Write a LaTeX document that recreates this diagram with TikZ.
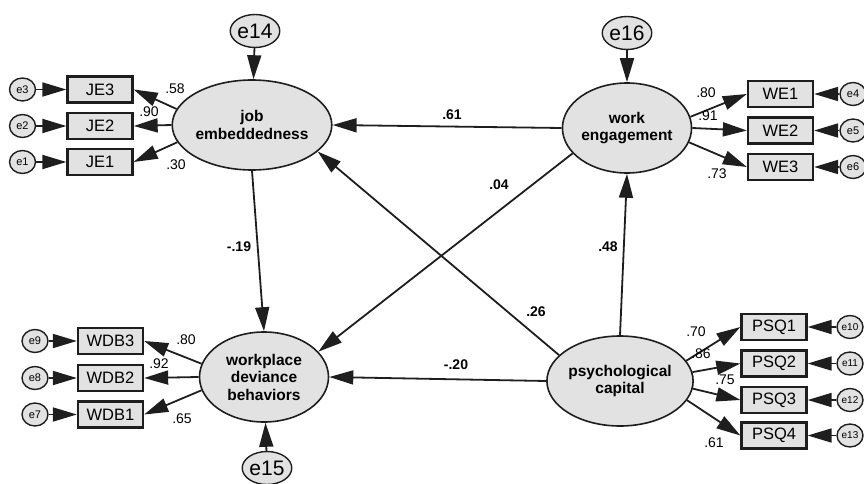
\documentclass[tikz,border=0pt]{standalone}
\usepackage{fontspec}
\setmainfont{Liberation Sans}
\usetikzlibrary{shapes.geometric,arrows.meta}
\definecolor{nodefill}{RGB}{226,226,226}
\definecolor{ink}{RGB}{30,30,30}
\begin{document}
\begin{tikzpicture}[x=1pt,y=-1pt,
  latent/.style={ellipse,draw=ink,line width=1.6pt,fill=nodefill,inner sep=0pt,
    minimum width=129pt,minimum height=90pt,align=center,
    font=\fontsize{15.5}{17.5}\selectfont\bfseries},
  obs/.style={rectangle,draw=ink,line width=2.3pt,fill=nodefill,inner sep=0pt,
    minimum width=65pt,minimum height=26pt,font=\fontsize{16.5}{18}\selectfont},
  errs/.style={ellipse,draw=ink,line width=1.4pt,fill=nodefill,inner sep=0pt,
    minimum width=26pt,minimum height=23pt,font=\fontsize{11}{12}\selectfont},
  errb/.style={ellipse,draw=ink,line width=1.4pt,fill=nodefill,inner sep=0pt,
    minimum width=40pt,minimum height=33pt,font=\fontsize{21}{23}\selectfont},
  conn/.style={draw=ink,line width=1.8pt,arrows={-Triangle[length=24pt 0,width=14pt 0]}},
  ld/.style={font=\fontsize{14}{16}\selectfont,inner sep=0pt},
  sl/.style={font=\fontsize{14}{16}\selectfont\bfseries,inner sep=0pt}]
\useasboundingbox (0,0) rectangle (864,484);

% latent variables
\node[latent] (je) at (252,125) {job\\embeddedness};
\node[latent] (we) at (627,128) {work\\engagement};
\node[latent] (wdb) at (264,377) {workplace\\deviance\\behaviors};
\node[latent] (pc) at (620,381) {psychological\\capital};

% disturbances
\node[errb] (e14) at (255,31) {e14};
\node[errb] (e16) at (627,33) {e16};
\node[errb] (e15) at (267,468) {e15};

% observed
\node[obs] (je3) at (100,89.5) {JE3};
\node[obs] (je2) at (100,126) {JE2};
\node[obs] (je1) at (100,162) {JE1};
\node[obs] (we1) at (780.5,94) {WE1};
\node[obs] (we2) at (780.5,130.5) {WE2};
\node[obs] (we3) at (780.5,167) {WE3};
\node[obs] (wdb3) at (110.5,341) {WDB3};
\node[obs] (wdb2) at (110.5,378) {WDB2};
\node[obs] (wdb1) at (110.5,414.5) {WDB1};
\node[obs] (psq1) at (774,327) {PSQ1};
\node[obs] (psq2) at (774,363.5) {PSQ2};
\node[obs] (psq3) at (774,400) {PSQ3};
\node[obs] (psq4) at (774,435.5) {PSQ4};

% errors
\node[errs] (e3) at (22.5,89.5) {e3};
\node[errs] (e2) at (22.5,126) {e2};
\node[errs] (e1) at (22.5,162) {e1};
\node[errs] (e4) at (853,94) {e4};
\node[errs] (e5) at (853,130.5) {e5};
\node[errs] (e6) at (853,167) {e6};
\node[errs] (e9) at (35,341) {e9};
\node[errs] (e8) at (35,378) {e8};
\node[errs] (e7) at (35,414.5) {e7};
\node[errs,font=\fontsize{10}{11}\selectfont] (e10) at (850,327) {e10};
\node[errs,font=\fontsize{10}{11}\selectfont] (e11) at (850,363.5) {e11};
\node[errs,font=\fontsize{10}{11}\selectfont] (e12) at (850,400) {e12};
\node[errs,font=\fontsize{10}{11}\selectfont] (e13) at (850,435.5) {e13};

% error arrows
\foreach \a/\b in {e3/je3,e2/je2,e1/je1,e9/wdb3,e8/wdb2,e7/wdb1}
  \draw[conn] (\a) -- (\b.west);
\foreach \a/\b in {e4/we1,e5/we2,e6/we3,e10/psq1,e11/psq2,e12/psq3,e13/psq4}
  \draw[conn] (\a) -- (\b.east);
\draw[conn] (e14) -- (je);
\draw[conn] (e16) -- (we);
\draw[conn] (e15) -- (wdb);

% loadings
\draw[conn] (je.168) -- (je3.east);
\draw[conn] (je.west) -- (je2.east);
\draw[conn] (je.193) -- (je1.east);
\draw[conn] (we.10) -- (we1.west);
\draw[conn] (we.east) -- (we2.west);
\draw[conn] (we.-13) -- (we3.west);
\draw[conn] (wdb.168) -- (wdb3.east);
\draw[conn] (wdb.west) -- (wdb2.east);
\draw[conn] (wdb.192) -- (wdb1.east);
\draw[conn] (pc.17) -- (psq1.west);
\draw[conn] (pc.7) -- (psq2.west);
\draw[conn] (pc.-6) -- (psq3.west);
\draw[conn] (pc.-16) -- (psq4.west);

% structural paths
\draw[conn] (we.west) -- (je.east);
\draw[conn] (we.205) -- (wdb.25);
\draw[conn] (pc.157) -- (je.-22);
\draw[conn] (je.south) -- (wdb.north);
\draw[conn] (pc.north) -- (we.south);
\draw[conn] (pc.west) -- (wdb.east);

% loading labels
\node[ld] (l1) at (175,89) {.58};
\node[ld] (l2) at (149,112) {.90};
\node[ld] (l3) at (176,165) {.30};
\node[ld] (l4) at (706,93) {.80};
\node[ld] (l5) at (708,116) {.91};
\node[ld] (l6) at (717,174) {.73};
\node[ld] (l7) at (186,340) {.80};
\node[ld] (l8) at (159,364) {.92};
\node[ld] (l9) at (182,419) {.65};
\node[ld] (l10) at (696,332) {.70};
\node[ld] (l11) at (701,354) {.86};
\node[ld] (l12) at (725,380) {.75};
\node[ld] (l13) at (714,443) {.61};

% structural labels
\node[sl] (s1) at (452,115) {.61};
\node[sl] (s2) at (499,185) {.04};
\node[sl] (s3) at (536,312) {.26};
\node[sl] (s4) at (239,247) {-.19};
\node[sl] (s5) at (608,247) {.48};
\node[sl] (s6) at (456,365) {-.20};
\end{tikzpicture}
\end{document}
